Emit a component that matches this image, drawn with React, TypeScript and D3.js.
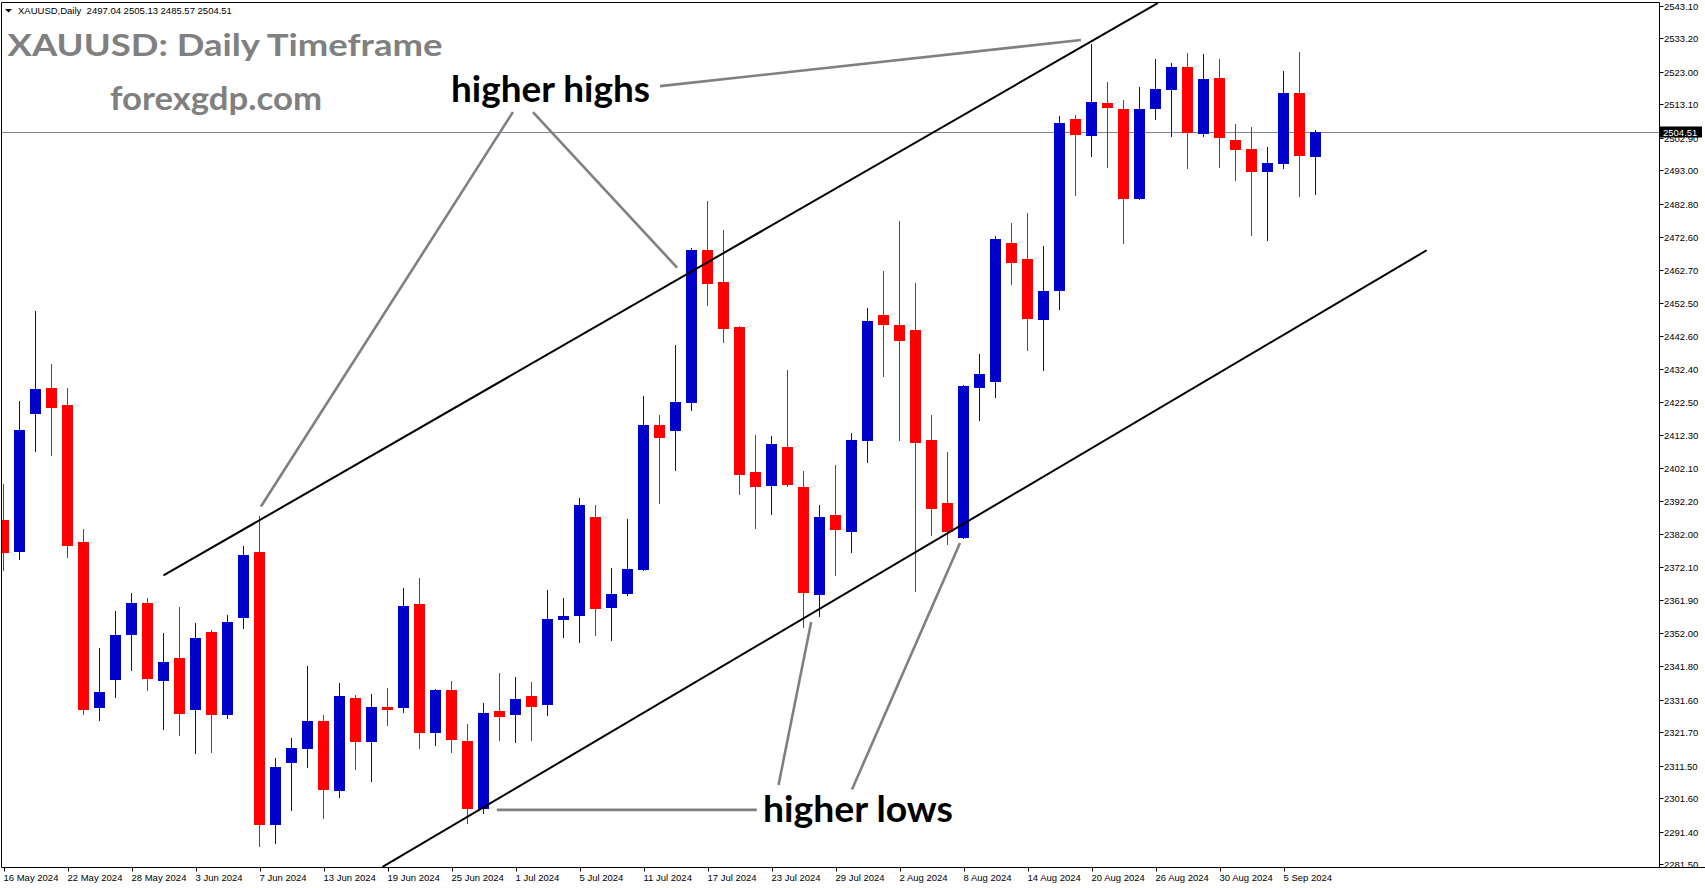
import React from "react";
import * as d3 from "d3";

// ---- Data (XAUUSD daily, 16 May 2024 .. 9 Sep 2024) ----
const opens = [
  2386.4, 2376.6, 2418.7, 2426.7, 2421.4, 2379.7, 2329.2, 2337.8, 2351.5, 2361.1,
  2337.5, 2344.3, 2328.4, 2352.3, 2327.1, 2356.4, 2376.6, 2293.4, 2312.5, 2316.7,
  2325.2, 2303.7, 2332.2, 2318.9, 2329.4, 2329.2, 2360.8, 2321.6, 2334.5, 2319.0,
  2298.5, 2328.3, 2327.1, 2332.7, 2329.9, 2356.0, 2357.2, 2387.4, 2359.7, 2364.0,
  2371.3, 2415.3, 2413.4, 2422.1, 2468.7, 2458.9, 2445.2, 2401.1, 2396.9, 2408.7,
  2396.5, 2363.7, 2387.8, 2382.9, 2410.6, 2448.9, 2445.8, 2444.3, 2410.8, 2391.6,
  2381.0, 2426.7, 2428.6, 2470.8, 2465.9, 2447.4, 2456.2, 2508.6, 2503.4, 2513.5,
  2511.6, 2484.3, 2511.6, 2517.4, 2524.4, 2504.0, 2521.1, 2502.2, 2499.4, 2492.4,
  2494.9, 2516.5, 2497.04,
];
const highs = [
  2397.4, 2422.7, 2450.2, 2433.9, 2426.7, 2383.6, 2347.4, 2358.7, 2364.2, 2362.6,
  2351.9, 2359.9, 2355.1, 2352.9, 2357.4, 2378.5, 2387.5, 2313.9, 2320.0, 2341.9,
  2327.0, 2336.8, 2333.0, 2333.4, 2335.3, 2365.7, 2368.7, 2335.0, 2337.2, 2324.3,
  2330.8, 2339.8, 2338.5, 2337.1, 2365.1, 2362.6, 2393.1, 2391.1, 2371.7, 2386.7,
  2424.3, 2418.4, 2439.7, 2469.4, 2483.6, 2474.7, 2445.5, 2412.3, 2412.0, 2432.1,
  2401.4, 2391.0, 2403.2, 2412.9, 2451.0, 2462.3, 2477.5, 2458.6, 2418.4, 2407.1,
  2427.5, 2437.0, 2472.9, 2476.9, 2479.9, 2469.9, 2509.5, 2509.8, 2531.4, 2519.9,
  2514.4, 2518.3, 2526.9, 2525.7, 2528.7, 2528.4, 2526.9, 2507.1, 2506.2, 2500.1,
  2523.2, 2529.0, 2505.13,
];
const lows = [
  2370.9, 2374.1, 2407.2, 2405.9, 2374.8, 2327.1, 2325.3, 2332.3, 2340.3, 2334.4,
  2322.5, 2320.7, 2315.0, 2315.5, 2325.9, 2353.3, 2286.9, 2287.8, 2297.8, 2310.7,
  2295.4, 2301.6, 2310.1, 2306.7, 2323.7, 2327.6, 2316.7, 2317.6, 2315.4, 2293.9,
  2296.8, 2319.2, 2318.6, 2319.2, 2326.8, 2350.6, 2349.0, 2351.0, 2349.4, 2363.1,
  2370.8, 2391.4, 2401.2, 2419.7, 2451.5, 2440.2, 2393.9, 2383.8, 2388.0, 2396.6,
  2353.5, 2357.0, 2369.4, 2376.5, 2403.9, 2430.1, 2410.6, 2364.4, 2381.6, 2378.9,
  2380.7, 2416.7, 2423.7, 2458.1, 2438.0, 2431.9, 2450.4, 2485.2, 2497.1, 2493.8,
  2470.6, 2483.9, 2508.3, 2503.1, 2493.4, 2503.1, 2493.8, 2489.7, 2472.9, 2471.4,
  2493.4, 2484.9, 2485.57,
];
const closes = [
  2376.5, 2413.8, 2426.3, 2420.5, 2378.6, 2328.6, 2334.0, 2351.3, 2361.1, 2338.0,
  2343.2, 2327.4, 2350.4, 2326.9, 2355.3, 2375.7, 2293.4, 2311.1, 2316.9, 2325.2,
  2304.1, 2332.8, 2318.9, 2329.4, 2328.4, 2360.2, 2321.4, 2334.7, 2319.5, 2298.4,
  2327.6, 2326.5, 2331.8, 2329.3, 2356.2, 2357.1, 2391.0, 2359.2, 2363.9, 2371.5,
  2415.3, 2411.5, 2422.4, 2468.7, 2458.4, 2444.7, 2400.2, 2396.4, 2409.6, 2397.2,
  2364.3, 2387.3, 2383.5, 2410.8, 2447.0, 2445.9, 2441.0, 2409.8, 2389.9, 2382.9,
  2427.2, 2430.9, 2472.0, 2464.8, 2447.8, 2456.2, 2507.4, 2503.8, 2513.8, 2512.0,
  2484.3, 2511.6, 2517.7, 2524.4, 2504.3, 2520.8, 2502.8, 2499.1, 2492.4, 2495.2,
  2516.5, 2497.3, 2504.51,
];

const dateTickLabels = [
  "16 May 2024", "22 May 2024", "28 May 2024", "3 Jun 2024", "7 Jun 2024",
  "13 Jun 2024", "19 Jun 2024", "25 Jun 2024", "1 Jul 2024", "5 Jul 2024",
  "11 Jul 2024", "17 Jul 2024", "23 Jul 2024", "29 Jul 2024", "2 Aug 2024",
  "8 Aug 2024", "14 Aug 2024", "20 Aug 2024", "26 Aug 2024", "30 Aug 2024",
  "5 Sep 2024",
];
const dateTickStep = 4;

const priceTicks = [
  2543.1, 2533.2, 2523.0, 2513.1, 2502.9, 2493.0, 2482.8, 2472.6, 2462.7,
  2452.5, 2442.6, 2432.4, 2422.5, 2412.3, 2402.1, 2392.2, 2382.0, 2372.1,
  2361.9, 2352.0, 2341.8, 2331.6, 2321.7, 2311.5, 2301.6, 2291.4, 2281.5,
];

const lastPrice = 2504.51;
const headerText = "XAUUSD,Daily  2497.04 2505.13 2485.57 2504.51";

// channel lines, [candle index, price]
const upperChannel: [number, number][] = [[10, 2369.5], [72.14, 2543.9]];
const lowerChannel: [number, number][] = [[23.69, 2280.7], [88.95, 2468.6]];

// annotation pointer lines, [candle index, price]
const highPointers: [number, number][][] = [
  [[41.03, 2518.6], [67.34, 2532.65]],
  [[31.84, 2510.7], [16.09, 2390.5]],
  [[33.09, 2510.7], [42.1, 2463.3]],
];
const lowPointers: [number, number][][] = [
  [[30.83, 2298.1], [47.08, 2298.1]],
  [[48.44, 2305.7], [50.48, 2355.3]],
  [[53.03, 2304.3], [59.78, 2379.4]],
];

const W = 1705;
const H = 888;
const frameL = 1.5;
const frameR = 1659.5;
const frameT = 2.5;
const frameB = 867.5;

const UP = "#0000CD";
const DOWN = "#FF0000";
const AXIS_FONT = "'Liberation Sans', Arial, sans-serif";
const BIG_FONT = "Lato, 'Open Sans', sans-serif";

export default function App() {
  const x = d3.scaleLinear().domain([0, 1]).range([3.5, 19.5]);
  const y = d3.scaleLinear().domain([2280.68, 2543.93]).range([867, 3]);
  const line = d3
    .line<[number, number]>()
    .x((d) => x(d[0]))
    .y((d) => y(d[1]));

  const bodyW = 11;
  const candles = opens.map((o, i) => {
    const c = closes[i];
    const up = c >= o;
    const color = up ? UP : DOWN;
    const cx = x(i);
    const top = Math.round(y(Math.max(o, c)));
    const bot = Math.round(y(Math.min(o, c)));
    const hy = Math.round(y(highs[i]));
    const ly = Math.round(y(lows[i]));
    return (
      <g key={i}>
        <rect x={cx - 0.5} y={hy} width={1} height={Math.max(1, ly - hy)} fill={color} />
        <rect x={cx - bodyW / 2} y={top} width={bodyW} height={Math.max(1, bot - top)} fill={color} />
      </g>
    );
  });

  const lastY = Math.round(y(lastPrice)) + 0.5;

  return (
    <div style={{ position: "absolute", left: 0, top: 0, width: W, height: H, background: "#fff" }}>
      <svg width={W} height={H} style={{ display: "block" }}>
        <defs>
          <clipPath id="plot">
            <rect x={2} y={3} width={frameR - 2} height={frameB - 3} />
          </clipPath>
        </defs>
        <rect x={0} y={0} width={W} height={H} fill="#fff" />

        {/* current price line */}
        <line x1={frameL} x2={frameR} y1={lastY} y2={lastY} stroke="#7b8594" strokeWidth={1} />

        <g clipPath="url(#plot)">{candles}</g>

        {/* channel lines */}
        <g clipPath="url(#plot)">
          <path d={line(upperChannel) || ""} stroke="#000" strokeWidth={2} fill="none" />
          <path d={line(lowerChannel) || ""} stroke="#000" strokeWidth={2} fill="none" />
        </g>

        {/* pointer lines */}
        {highPointers.concat(lowPointers).map((seg, k) => (
          <path key={k} d={line(seg) || ""} stroke="#808080" strokeWidth={2.6} fill="none" />
        ))}

        {/* frame */}
        <line x1={frameL} x2={frameR} y1={frameT} y2={frameT} stroke="#000" />
        <line x1={frameL} x2={frameL} y1={frameT} y2={frameB} stroke="#000" />
        <line x1={frameR} x2={frameR} y1={frameT} y2={frameB} stroke="#000" />
        <line x1={frameL} x2={W} y1={frameB} y2={frameB} stroke="#000" />

        {/* price axis */}
        {priceTicks.map((v) => {
          const ty = Math.round(y(v)) + 0.5;
          return (
            <g key={v}>
              <line x1={frameR} x2={frameR + 4} y1={ty} y2={ty} stroke="#000" />
              <text x={1664} y={ty} dy="0.35em" fontFamily={AXIS_FONT} fontSize={9.5} fill="#000">
                {v.toFixed(2)}
              </text>
            </g>
          );
        })}
        <rect x={1660} y={lastY - 6} width={42} height={11} fill="#000" />
        <text x={1663} y={lastY} dy="0.35em" fontFamily={AXIS_FONT} fontSize={9.5} fill="#fff">
          {lastPrice.toFixed(2)}
        </text>

        {/* date axis */}
        {dateTickLabels.map((lab, k) => {
          const tx = Math.round(x(k * dateTickStep)) + 0.5;
          return (
            <g key={lab}>
              <line x1={tx} x2={tx} y1={frameB} y2={frameB + 4} stroke="#000" />
              <text x={tx - 1} y={881} fontFamily={AXIS_FONT} fontSize={9.5} fill="#000">
                {lab}
              </text>
            </g>
          );
        })}

        {/* header */}
        <path d="M5,9 L12,9 L8.5,12.5 Z" fill="#000" />
        <text x={18} y={14} fontFamily={AXIS_FONT} fontSize={9.5} fill="#000" xmlSpace="preserve" style={{ whiteSpace: "pre" }}>
          {headerText}
        </text>

        {/* titles */}
        <text x={7.5} y={56} fontFamily={BIG_FONT} fontWeight="bold" fontSize={31} fill="#808080" textLength={435} lengthAdjust="spacingAndGlyphs">
          XAUUSD: Daily Timeframe
        </text>
        <text x={110} y={110} fontFamily={BIG_FONT} fontWeight="bold" fontSize={32} fill="#808080" textLength={212} lengthAdjust="spacingAndGlyphs">
          forexgdp.com
        </text>
        <text x={451} y={102} fontFamily={BIG_FONT} fontWeight="bold" fontSize={36} fill="#000" textLength={199} lengthAdjust="spacingAndGlyphs">
          higher highs
        </text>
        <text x={763} y={822} fontFamily={BIG_FONT} fontWeight="bold" fontSize={36} fill="#000" textLength={190} lengthAdjust="spacingAndGlyphs">
          higher lows
        </text>
      </svg>
    </div>
  );
}
